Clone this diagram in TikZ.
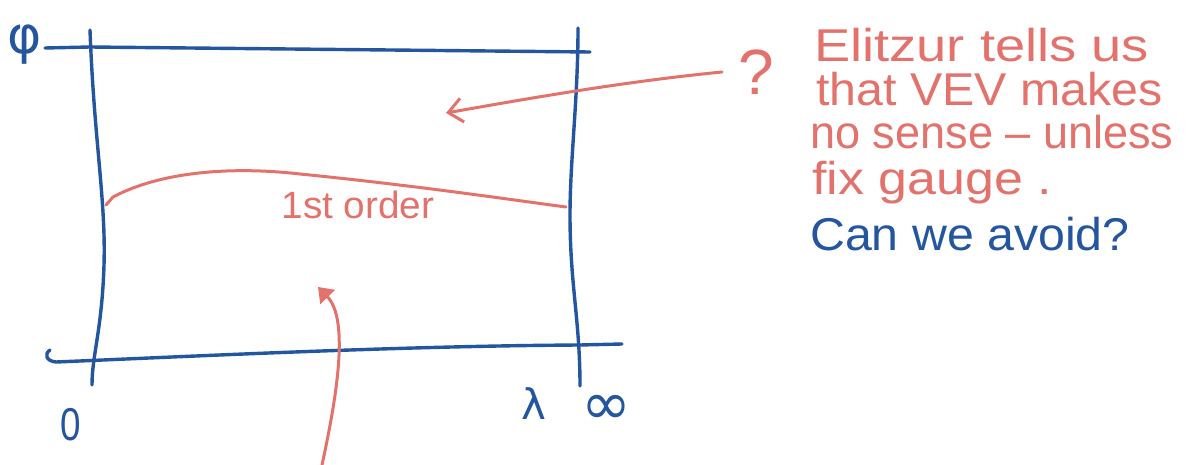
\documentclass[tikz,border=0pt]{standalone}
\usepackage{graphicx}
\usepackage{fontspec}
\setmainfont{Liberation Sans}
\newfontfamily\hand{Liberation Sans}
\newfontfamily\symf{DejaVu Sans}
\usetikzlibrary{arrows.meta}
\definecolor{penblue}{RGB}{36,86,160}
\definecolor{penred}{RGB}{228,114,108}
\tikzset{
  bluepen/.style={draw=penblue, line width=3.4pt, line cap=round, line join=round},
  redpen/.style={draw=penred, line width=3pt, line cap=round, line join=round},
  redtxt/.style={text=penred, font=\hand\fontsize{46}{46}\selectfont, anchor=base west, inner sep=0pt},
  bluetxt/.style={text=penblue, font=\hand\fontsize{46}{46}\selectfont, anchor=base west, inner sep=0pt},
  axlabel/.style={text=penblue, inner sep=0pt}
}
\begin{document}
\begin{tikzpicture}[x=1pt,y=-1pt]
\useasboundingbox[fill=white] (0,0) rectangle (1191,465);

% frame coordinates
\coordinate (tl) at (45,48);
\coordinate (tr) at (590,52);
\coordinate (lt) at (90,30);
\coordinate (lb) at (92,385);
\coordinate (rt) at (578,28);
\coordinate (rb) at (580,386);
\coordinate (bl) at (50,350);
\coordinate (br) at (622,344);

% blue frame
\draw[bluepen] (tl) -- (90,47) -- (tr);
\draw[bluepen] (lt) .. controls (94,140) and (106,200) .. (104,265) .. controls (102,330) and (92,355) .. (lb);
\draw[bluepen] (rt) .. controls (578,100) and (570,160) .. (570,215) .. controls (570,285) and (580,320) .. (rb);
\draw[bluepen] (bl) .. controls (44,354) and (46,361) .. (56,362) .. controls (200,356) and (400,346) .. (580,345) -- (br);

% axis labels
\node[axlabel, font=\symf\fontsize{52}{52}\selectfont] (phi) at (25,45) {φ};
\node[axlabel, font=\hand\fontsize{46}{46}\selectfont] (zero) at (71,425) {\scalebox{0.8}[1]{0}};
\node[axlabel, font=\symf\fontsize{42}{42}\selectfont] (lam) at (534,404) {λ};
\node[axlabel, font=\symf\fontsize{60}{60}\selectfont] (inf) at (606,410) {∞};

% 1st order curve
\coordinate (oa) at (106,205);
\coordinate (ob) at (566,207);
\draw[redpen] (oa) -- (113,197) .. controls (160,172) and (230,166) .. (300,174) .. controls (420,186) and (520,201) .. (ob);
\node[text=penred, font=\hand\fontsize{38}{38}\selectfont, inner sep=0pt] (order) at (358,205) {\scalebox{1.02}[1]{1st order}};

% arrow from the note
\coordinate (na) at (722,72);
\coordinate (nb) at (446,113);
\draw[redpen, -{Straight Barb[length=14pt,width=24pt,line width=3pt]}] (na) .. controls (620,82) and (520,100) .. (nb);

% arrow from below
\coordinate (ua) at (322,465);
\coordinate (ub) at (318,287);
\draw[redpen, -{Triangle[length=14pt,width=20pt]}] (ua) .. controls (336,400) and (350,320) .. (ub);

% question mark
\node[text=penred, font=\hand\fontsize{64}{64}\selectfont, inner sep=0pt] (q) at (756,72) {?};

% note text
\node[redtxt] (l1) at (814,62) {\scalebox{1.18}[1]{Elitzur tells us}};
\node[redtxt] (l2) at (816,106) {\scalebox{1.05}[1]{that VEV makes}};
\node[redtxt] (l3) at (810,149) {\scalebox{0.98}[1]{no sense – unless}};
\node[redtxt] (l4) at (812,195) {\scalebox{1.13}[1]{fix gauge .}};
\node[bluetxt] (l5) at (810,250) {\scalebox{1.05}[1]{Can we avoid?}};
\end{tikzpicture}
\end{document}
